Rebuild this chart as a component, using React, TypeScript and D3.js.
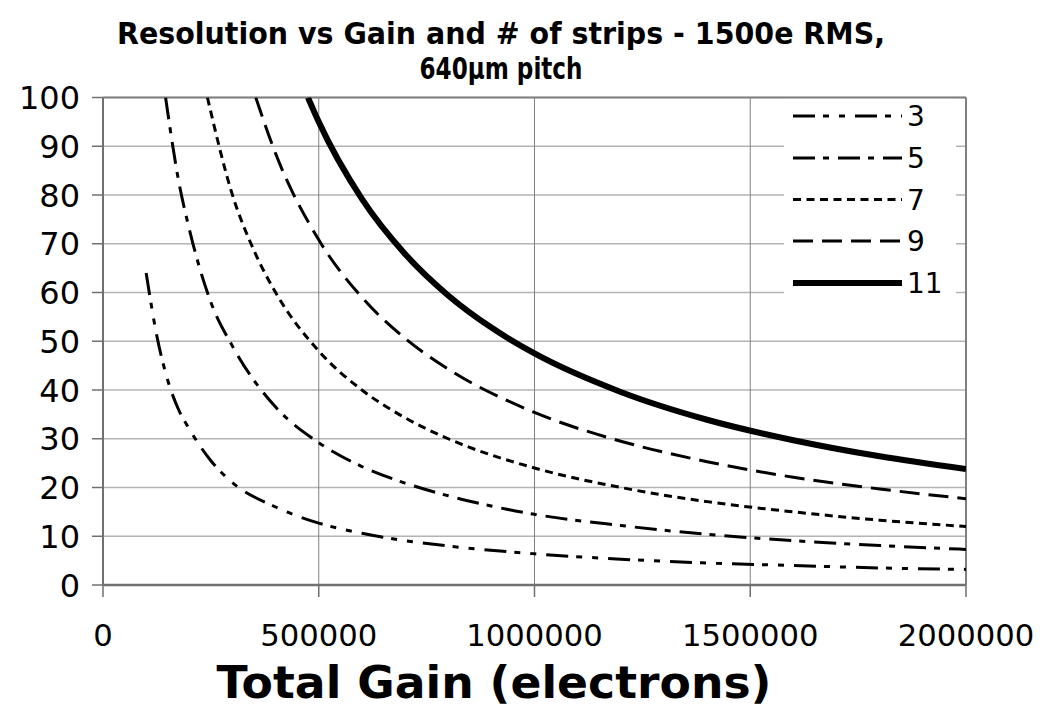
import React, { useEffect, useRef } from 'react';
import * as d3 from 'd3';

// x in electrons, y in resolution
const xTicks = [0, 500000, 1000000, 1500000, 2000000];
const yTicks = [0, 10, 20, 30, 40, 50, 60, 70, 80, 90, 100];

const strips3 = [
  [100000, 64], [125000, 51], [150000, 42], [175000, 36], [200000, 32], [250000, 25.5],
  [300000, 21], [400000, 16], [500000, 12.7], [600000, 10.6], [700000, 9.1], [800000, 8],
  [1000000, 6.4], [1200000, 5.3], [1400000, 4.5], [1600000, 4], [1800000, 3.5], [2000000, 3.2],
];
const strips5 = [
  [145000, 100], [175000, 83], [200000, 73], [250000, 58], [300000, 49], [400000, 36.5],
  [500000, 29.2], [600000, 24.3], [700000, 20.9], [800000, 18.3], [1000000, 14.5],
  [1200000, 12.2], [1400000, 10.4], [1600000, 9.1], [1800000, 8.1], [2000000, 7.3],
];
const strips7 = [
  [242000, 100], [300000, 80], [350000, 68.6], [400000, 60], [500000, 48], [600000, 40],
  [700000, 34.3], [800000, 30], [1000000, 24], [1200000, 20], [1400000, 17.1],
  [1600000, 15], [1800000, 13.3], [2000000, 12],
];
const strips9 = [
  [354000, 100], [400000, 88.5], [500000, 70.8], [600000, 59], [700000, 50.6],
  [800000, 44.3], [1000000, 35.4], [1200000, 29.5], [1400000, 25.3], [1600000, 22.1],
  [1800000, 19.7], [2000000, 17.7],
];
const strips11 = [
  [475000, 100], [500000, 95], [600000, 79.2], [700000, 67.9], [800000, 59.4],
  [900000, 52.8], [1000000, 47.5], [1200000, 39.6], [1400000, 33.9], [1600000, 29.7],
  [1800000, 26.4], [2000000, 23.8],
];

const seriesNames = ['3', '5', '7', '9', '11'];
const seriesData = [strips3, strips5, strips7, strips9, strips11];
const dashes = ['22 8 6 10 6 10', '22 8 6 9', '8 5.5', '20 9', null];
const widths = [3, 3, 3, 3, 6];

const App = () => {
  const svgRef = useRef(null);

  useEffect(() => {
    const W = 1050, H = 717;
    const left = 103, right = 966, top = 97.5, bottom = 585;
    const svg = d3.select(svgRef.current).attr('width', W).attr('height', H);
    svg.selectAll('*').remove();

    const x = d3.scaleLinear().domain([0, 2000000]).range([left, right]);
    const y = d3.scaleLinear().domain([0, 100]).range([bottom, top]);

    svg.append('rect').attr('width', W).attr('height', H).attr('fill', '#fff');

    // gridlines
    svg.selectAll('.hgrid').data(yTicks.slice(1)).join('line')
      .attr('x1', left).attr('x2', right)
      .attr('y1', d => y(d)).attr('y2', d => y(d))
      .attr('stroke', '#b4b4b4').attr('stroke-width', 1.5);
    svg.selectAll('.vgrid').data(xTicks.slice(1)).join('line')
      .attr('x1', d => x(d)).attr('x2', d => x(d))
      .attr('y1', top).attr('y2', bottom)
      .attr('stroke', '#808080').attr('stroke-width', 1);

    // legend background hides the gridlines behind it
    svg.append('rect').attr('x', 784).attr('y', top + 1).attr('width', 172).attr('height', 206)
      .attr('fill', '#fff');

    // frame
    svg.append('line').attr('x1', left).attr('x2', right).attr('y1', top).attr('y2', top)
      .attr('stroke', '#808080').attr('stroke-width', 2);
    svg.append('line').attr('x1', right).attr('x2', right).attr('y1', top).attr('y2', bottom)
      .attr('stroke', '#808080').attr('stroke-width', 2);
    svg.append('line').attr('x1', left).attr('x2', left).attr('y1', top).attr('y2', bottom)
      .attr('stroke', '#707070').attr('stroke-width', 2);
    svg.append('line').attr('x1', left).attr('x2', right).attr('y1', bottom).attr('y2', bottom)
      .attr('stroke', '#707070').attr('stroke-width', 2.5);

    // ticks
    svg.selectAll('.ytick').data(yTicks).join('line')
      .attr('x1', left - 11).attr('x2', left)
      .attr('y1', d => y(d)).attr('y2', d => y(d))
      .attr('stroke', '#707070').attr('stroke-width', 1.5);
    svg.selectAll('.xtick').data(xTicks).join('line')
      .attr('x1', d => x(d)).attr('x2', d => x(d))
      .attr('y1', bottom).attr('y2', bottom + 12)
      .attr('stroke', '#707070').attr('stroke-width', 1.5);

    svg.selectAll('.ylab').data(yTicks).join('text')
      .attr('x', 80).attr('y', d => y(d) + 11.5)
      .attr('text-anchor', 'end')
      .attr('font-family', 'DejaVu Sans').attr('font-size', 32).attr('fill', '#000')
      .text(d => d);
    svg.selectAll('.xlab').data(xTicks).join('text')
      .attr('x', d => x(d)).attr('y', 646)
      .attr('text-anchor', 'middle')
      .attr('font-family', 'DejaVu Sans').attr('font-size', 30).attr('fill', '#000')
      .attr('textLength', d => String(d).length * 19.5).attr('lengthAdjust', 'spacingAndGlyphs')
      .text(d => d);

    // curves
    svg.append('clipPath').attr('id', 'plotclip').append('rect')
      .attr('x', left).attr('y', top).attr('width', right - left).attr('height', bottom - top);
    const line = d3.line().x(d => x(d[0])).y(d => y(d[1])).curve(d3.curveMonotoneX);
    const g = svg.append('g').attr('clip-path', 'url(#plotclip)');
    seriesData.forEach((s, i) => {
      g.append('path').attr('d', line(s))
        .attr('fill', 'none').attr('stroke', '#000')
        .attr('stroke-width', widths[i])
        .attr('stroke-dasharray', dashes[i] || null);
    });

    // legend
    const legY = [116, 158, 199.5, 241, 283];
    seriesNames.forEach((n, i) => {
      svg.append('line').attr('x1', 793).attr('x2', 902)
        .attr('y1', legY[i]).attr('y2', legY[i])
        .attr('stroke', '#000').attr('stroke-width', widths[i])
        .attr('stroke-dasharray', dashes[i] || null);
      svg.append('text').attr('x', 907).attr('y', legY[i] + 10)
        .attr('font-family', 'DejaVu Sans').attr('font-size', 28).attr('fill', '#000')
        .text(n);
    });

    // titles
    svg.append('text').attr('x', 501).attr('y', 44).attr('text-anchor', 'middle')
      .attr('font-family', 'DejaVu Sans').attr('font-weight', 'bold').attr('font-size', 30)
      .attr('textLength', 768).attr('lengthAdjust', 'spacingAndGlyphs')
      .text('Resolution vs Gain and # of strips - 1500e RMS,');
    svg.append('text').attr('x', 501).attr('y', 79).attr('text-anchor', 'middle')
      .attr('font-family', 'DejaVu Sans').attr('font-weight', 'bold').attr('font-size', 30)
      .attr('textLength', 163).attr('lengthAdjust', 'spacingAndGlyphs')
      .text('640µm pitch');
    svg.append('text').attr('x', 494).attr('y', 698).attr('text-anchor', 'middle')
      .attr('font-family', 'DejaVu Sans').attr('font-weight', 'bold').attr('font-size', 45)
      .attr('textLength', 555).attr('lengthAdjust', 'spacingAndGlyphs')
      .text('Total Gain (electrons)');
  }, []);

  return (
    <svg ref={svgRef} style={{ position: 'absolute', left: 0, top: 0 }}></svg>
  );
};

export default App;
